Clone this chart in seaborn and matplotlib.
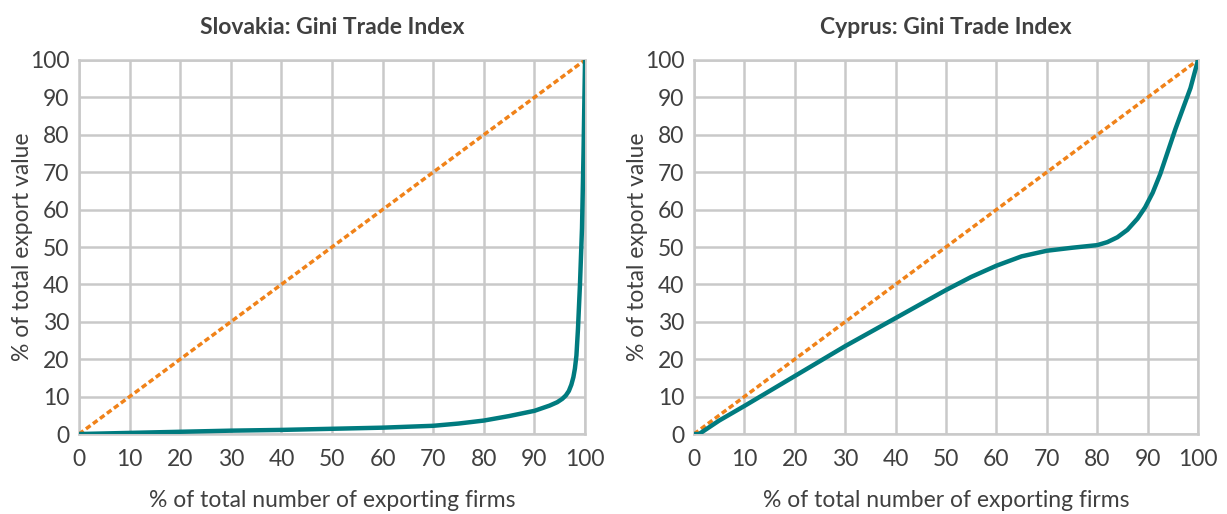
import numpy as np
import pandas as pd
import seaborn as sns
import matplotlib.pyplot as plt

# Lorenz curves (% firms, % export value)
SK_FIRMS = [0, 10, 20, 30, 40, 50, 60, 70, 75, 80, 85, 90, 93, 94.5, 95.5, 96.2, 96.8, 97.3, 97.7, 98.0, 98.3, 98.6, 99.0, 99.4, 99.7, 100]
SK_VALUE = [0, 0.3, 0.6, 0.9, 1.1, 1.4, 1.7, 2.2, 2.8, 3.6, 4.8, 6.2, 7.6, 8.5, 9.4, 10.3, 11.5, 13.2, 15.2, 17.5, 21.0, 28.0, 40.0, 55.0, 75.0, 100]

CY_FIRMS = [0, 1, 5, 10, 20, 30, 40, 50, 55, 60, 65, 70, 75, 80, 82, 84, 86, 88, 89.5, 91, 92.5, 94, 95.5, 97, 98.5, 100]
CY_VALUE = [0, 0, 3.6, 7.5, 15.5, 23.5, 31, 38.5, 42, 45, 47.5, 49, 49.8, 50.5, 51.3, 52.6, 54.6, 57.6, 60.6, 64.5, 69.5, 75.5, 81.5, 87, 92.5, 100]

EQUALITY = [0, 100]

TITLES = ["Slovakia: Gini Trade Index", "Cyprus: Gini Trade Index"]
XLABEL = "% of total number of exporting firms"
YLABEL = "% of total export value"
TICKS = list(range(0, 101, 10))

TEAL = "#007b7f"
ORANGE = "#f08219"
GRID = "#c9c9c9"
TEXT = "#404040"

sns.set_theme(style="white")
plt.rcParams['font.family'] = ['Lato', 'DejaVu Sans']

fig = plt.figure(figsize=(12.27, 5.14), dpi=100)
ax_sk = fig.add_axes([0.0644, 0.1556, 0.4124, 0.7277])
ax_cy = fig.add_axes([0.5656, 0.1556, 0.4108, 0.7277])

curves = [(SK_FIRMS, SK_VALUE), (CY_FIRMS, CY_VALUE)]

for ax, (xs, ys), title in zip([ax_sk, ax_cy], curves, TITLES):
    df = pd.DataFrame({"firms": xs, "value": ys})
    sns.lineplot(x=EQUALITY, y=EQUALITY, ax=ax, color=ORANGE, linewidth=2.5,
                 dashes=False, zorder=3)
    ax.lines[-1].set_linestyle((0, (1.6, 0.9)))
    sns.lineplot(data=df, x="firms", y="value", ax=ax, color=TEAL, linewidth=3.2,
                 sort=False, zorder=4)
    ax.lines[-1].set_solid_joinstyle('round')

    ax.set_xlim(0, 100)
    ax.set_ylim(0, 100)
    ax.set_xticks(TICKS)
    ax.set_yticks(TICKS)
    ax.grid(True, color=GRID, linewidth=1.8)
    ax.set_axisbelow(True)
    for sp in ax.spines.values():
        sp.set_color(GRID)
        sp.set_linewidth(1.8)
    ax.tick_params(axis='both', labelsize=16.5, colors=TEXT, length=0)
    ax.tick_params(axis='x', pad=11)
    ax.tick_params(axis='y', pad=7)
    ax.set_title(title, fontsize=16.5, fontweight='bold', color=TEXT, pad=19)
    ax.set_xlabel(XLABEL, fontsize=16.5, color=TEXT, labelpad=14)
    ax.set_ylabel(YLABEL, fontsize=16.5, color=TEXT, labelpad=-2)

fig.savefig("out.png", dpi=100)
